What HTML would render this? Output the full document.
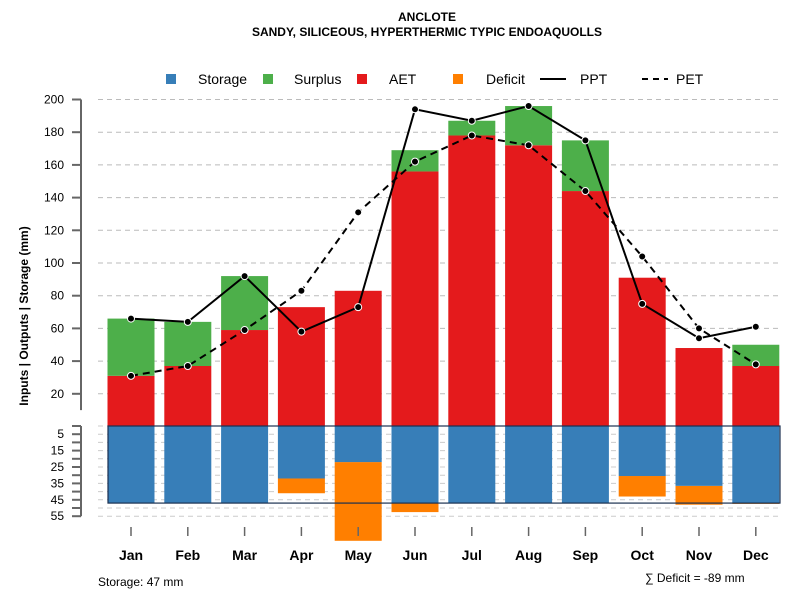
<!DOCTYPE html>
<html><head><meta charset="utf-8"><style>
body{margin:0;background:#fff;}
svg text{font-family:"Liberation Sans",sans-serif;}
</style></head><body>
<svg id="c" width="800" height="600" xmlns="http://www.w3.org/2000/svg">
<text x="427" y="21" text-anchor="middle" font-size="12" font-weight="bold">ANCLOTE</text>
<text x="427" y="36" text-anchor="middle" font-size="12" font-weight="bold">SANDY, SILICEOUS, HYPERTHERMIC TYPIC ENDOAQUOLLS</text>
<text transform="translate(28,316) rotate(-90)" text-anchor="middle" font-size="12" font-weight="bold">Inputs | Outputs | Storage    (mm)</text>
<g id="legend">
<rect x="166" y="74" width="10" height="10" fill="#377eb8"/>
<text x="198" y="84" font-size="14">Storage</text>
<rect x="263" y="74" width="10" height="10" fill="#4daf4a"/>
<text x="294" y="84" font-size="14">Surplus</text>
<rect x="357" y="74" width="10" height="10" fill="#e41a1c"/>
<text x="389" y="84" font-size="14">AET</text>
<rect x="453" y="74" width="10" height="10" fill="#ff7f00"/>
<text x="486" y="84" font-size="14">Deficit</text>
<line x1="540" y1="79" x2="566" y2="79" stroke="#000" stroke-width="2"/>
<text x="580" y="84" font-size="14">PPT</text>
<line x1="642" y1="79" x2="668" y2="79" stroke="#000" stroke-width="2" stroke-dasharray="6,5"/>
<text x="676" y="84" font-size="14">PET</text>
</g>
<g id="g"></g>
<text x="98" y="586" font-size="12">Storage: 47 mm</text>
<text x="645" y="582" font-size="12">∑ Deficit = -89 mm</text>
</svg>
<script>
const months=["Jan","Feb","Mar","Apr","May","Jun","Jul","Aug","Sep","Oct","Nov","Dec"];
const aet=[31,37,59,73,83,156,178,172,144,91,48,37];
const surplus=[35,27,33,0,0,13,9,24,31,0,0,13];
const ppt=[66,64,92,58,73,194,187,196,175,75,54,61];
const pet=[31,37,59,83,131,162,178,172,144,104,60,38];
const storage=[47,47,47,32,22,47,47,47,47,30.5,36.5,47];
const deficit=[0,0,0,9,48,5.5,0,0,0,12.5,11.5,0.5];
const capacity=47;
const upperTicks=[20,40,60,80,100,120,140,160,180,200];
const lowerTicks=[5,15,25,35,45,55];
const NS="http://www.w3.org/2000/svg";
const g=document.getElementById('g');
const x=i=>131+i*56.8;
const yU=v=>426.5-v*1.635;
const yL=v=>426-v*1.64;
const bw=47;
function mk(t,a){const e=document.createElementNS(NS,t);for(const k in a)e.setAttribute(k,a[k]);g.appendChild(e);return e;}
// upper grid + axis
upperTicks.forEach(v=>{
 const l=mk('line',{x1:98,x2:780,y1:yU(v),y2:yU(v),stroke:'#bbb','stroke-dasharray':'5,4'});
 
 
 const t=mk('line',{x1:72,x2:81,y1:yU(v),y2:yU(v),stroke:'#666','stroke-width':2});
 
 
 const tx=mk('text',{x:64,y:yU(v)+4,'text-anchor':'end','font-size':12});
 tx.textContent=v;
 
 
});
const ax=mk('line',{x1:81,x2:81,y1:yU(200),y2:yU(10),stroke:'#666','stroke-width':2});


// lower grid + axis
for(let v=0;v<=55;v+=5){
 const l=mk('line',{x1:98,x2:780,y1:yL(-v),y2:yL(-v),stroke:'#ccc','stroke-dasharray':'5,4'});
 
 
 const t=mk('line',{x1:72,x2:81,y1:yL(-v),y2:yL(-v),stroke:'#666','stroke-width':2});
 
 
}
lowerTicks.forEach(v=>{
 const tx=mk('text',{x:64,y:yL(-v)+4,'text-anchor':'end','font-size':12});
 tx.textContent=v;
 
 
});
const ax2=mk('line',{x1:81,x2:81,y1:yL(0),y2:yL(-55),stroke:'#666','stroke-width':2});


// bars
months.forEach((m,i)=>{
 const r=mk('rect',{x:x(i)-bw/2,y:yU(aet[i]),width:bw,height:yU(0)-yU(aet[i]),fill:'#e41a1c'});
 
 
 if(surplus[i]>0){const s=mk('rect',{x:x(i)-bw/2,y:yU(aet[i]+surplus[i]),width:bw,height:yU(aet[i])-yU(aet[i]+surplus[i]),fill:'#4daf4a'});
 
 }
 if(deficit[i]>0){const d=mk('rect',{x:x(i)-bw/2,y:yL(-storage[i]),width:bw,height:yL(-storage[i]-deficit[i])-yL(-storage[i]),fill:'#ff7f00'});
 
 }
 const b=mk('rect',{x:x(i)-bw/2,y:yL(0),width:bw,height:yL(-storage[i])-yL(0),fill:'#377eb8'});
 
 
 const t=mk('line',{x1:x(i),x2:x(i),y1:527,y2:536,stroke:'#666','stroke-width':1.5});
 
 
 const tx=mk('text',{x:x(i),y:560,'text-anchor':'middle','font-size':14,'font-weight':'bold'});
 tx.textContent=m;
 
 
});
const box=mk('rect',{x:108,y:yL(0),width:672,height:yL(-capacity)-yL(0),fill:'none',stroke:'#1a3050','stroke-width':1.2});


function line(arr,dash,name){
 const p=mk('polyline',{points:arr.map((v,i)=>x(i)+','+yU(v)).join(' '),fill:'none',stroke:'#000','stroke-width':2});
 if(dash)p.setAttribute('stroke-dasharray','7,5');
 
 
 arr.forEach((v,i)=>{const c=mk('circle',{cx:x(i),cy:yU(v),r:3.5,fill:'#000',stroke:'#fff','stroke-width':1});
 
 });
}
line(pet,true,'pet');
line(ppt,false,'ppt');
</script>
</body></html>
